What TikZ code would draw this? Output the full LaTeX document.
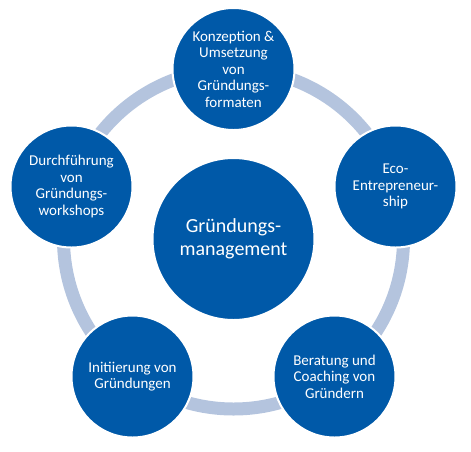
\documentclass[tikz,border=0pt]{standalone}
\usepackage{fontspec}
\setmainfont{Carlito}
\definecolor{circblue}{RGB}{0,89,168}
\definecolor{ringblue}{RGB}{180,196,222}
\begin{document}
\begin{tikzpicture}[x=1pt,y=-1pt,
  outer/.style={circle,fill=circblue,draw=white,line width=2pt,minimum size=122pt,inner sep=0pt,
    text=white,align=center,font=\fontsize{15}{16.5}\selectfont},
  inner/.style={circle,fill=circblue,draw=white,line width=2pt,minimum size=162pt,inner sep=0pt,
    text=white,align=center,font=\fontsize{20}{22.5}\selectfont}]
\useasboundingbox (0,0) rectangle (471,451);
\coordinate (c) at (233.5,239);
\draw[ringblue,line width=13pt] (c) circle[radius=170pt];
\node[inner] (center) at (c) {Gründungs-\\management};
\node[outer] (top) at (233.5,69) {Konzeption \&\\Umsetzung\\von\\Gründungs-\\formaten};
\node[outer] (right) at (395.5,186.5) {Eco-\\Entrepreneur-\\ship};
\node[outer] (br) at (334.5,376.5) {Beratung und\\Coaching von\\Gründern};
\node[outer] (bl) at (132.5,376.5) {Initiierung von\\Gründungen};
\node[outer] (left) at (71.5,186.5) {Durchführung\\von\\Gründungs-\\workshops};
\end{tikzpicture}
\end{document}
